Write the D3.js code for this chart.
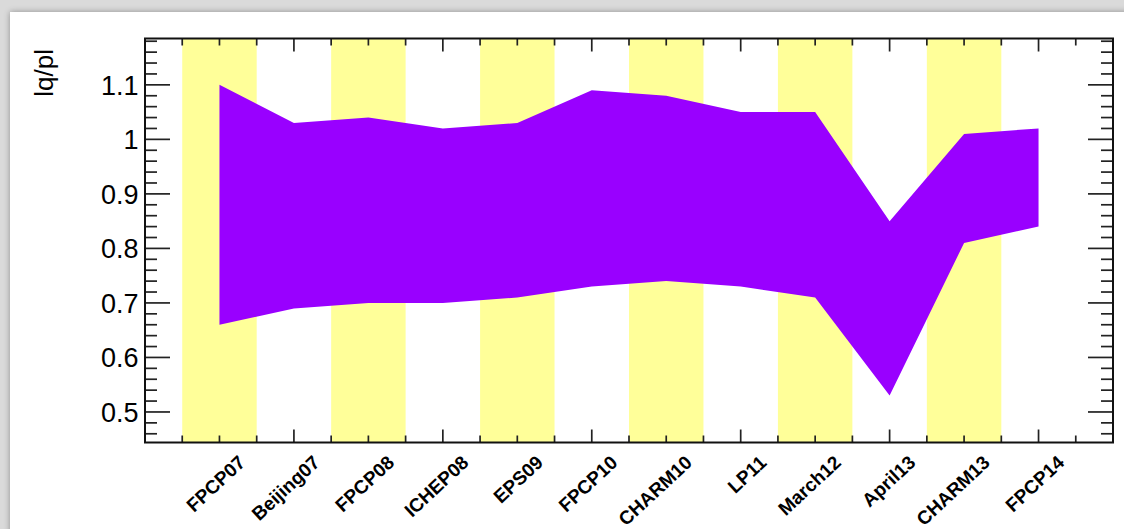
<!DOCTYPE html>
<html>
<head>
<meta charset="utf-8">
<script src="https://cdn.jsdelivr.net/npm/d3@7"></script>
<style>
  html, body { margin: 0; padding: 0; background: #dadada; }
  svg { display: block; }
</style>
</head>
<body>
<script>
// Conference labels, in chronological order
const categories = ["FPCP07", "Beijing07", "FPCP08", "ICHEP08", "EPS09", "FPCP10",
                    "CHARM10", "LP11", "March12", "April13", "CHARM13", "FPCP14"];
// Upper and lower edges of the allowed |q/p| range for each result
const upperValues = [1.10, 1.03, 1.04, 1.02, 1.03, 1.09, 1.08, 1.05, 1.05, 0.85, 1.01, 1.02];
const lowerValues = [0.66, 0.69, 0.70, 0.70, 0.71, 0.73, 0.74, 0.73, 0.71, 0.53, 0.81, 0.84];
// Labelled ticks on the vertical axis
const yTickValues = [0.5, 0.6, 0.7, 0.8, 0.9, 1.0, 1.1];
const yTickLabels = ["0.5", "0.6", "0.7", "0.8", "0.9", "1", "1.1"];

const W = 1124, H = 529;
const frame = { left: 145, right: 1113, top: 38.5, bottom: 442.5 };

const svg = d3.select("body").append("svg")
  .attr("width", W).attr("height", H);

// canvas window with soft shadow
const defs = svg.append("defs");
const shadow = defs.append("filter").attr("id", "shadow")
  .attr("x", "-5%").attr("y", "-5%").attr("width", "110%").attr("height", "110%");
shadow.append("feGaussianBlur").attr("in", "SourceAlpha").attr("stdDeviation", 3);
shadow.append("feOffset").attr("dx", 0).attr("dy", 0).attr("result", "b");
shadow.append("feComponentTransfer").append("feFuncA").attr("type", "linear").attr("slope", 0.35);
const merge = shadow.append("feMerge");
merge.append("feMergeNode");
merge.append("feMergeNode").attr("in", "SourceGraphic");

svg.append("rect").attr("width", W).attr("height", H).attr("fill", "#dadada");
svg.append("rect").attr("x", 10).attr("y", 12).attr("width", W + 20).attr("height", H + 20)
  .attr("fill", "#ffffff").attr("filter", "url(#shadow)");

// scales: categories sit at 1..12 on a 0..13 axis
const x = d3.scaleLinear().domain([0, categories.length + 1]).range([frame.left, frame.right]);
const y = d3.scaleLinear().domain([0.444, 1.185]).range([frame.bottom, frame.top]);

// alternating yellow bands behind every other conference
const bands = svg.append("g");
categories.forEach((c, i) => {
  if (i % 2 === 0) {
    bands.append("rect")
      .attr("x", x(i + 0.5)).attr("width", x(i + 1.5) - x(i + 0.5))
      .attr("y", frame.top).attr("height", frame.bottom - frame.top)
      .attr("fill", "#ffff99");
  }
});

// allowed region as a filled band
const bandData = categories.map((c, i) => ({ i: i + 1, lo: lowerValues[i], hi: upperValues[i] }));
svg.append("path")
  .datum(bandData)
  .attr("d", d3.area().x(d => x(d.i)).y0(d => y(d.lo)).y1(d => y(d.hi)))
  .attr("fill", "#9900ff");

// axes in ROOT style: ticks inside the frame on all four sides
const ink = "#222";
const axes = svg.append("g").attr("stroke", ink).attr("stroke-width", 1.7).attr("fill", "none");

// horizontal axis ticks: long every 2, short every 0.5
const xTicks = d3.range(0.5, categories.length + 1, 0.5);
xTicks.forEach(t => {
  const len = (t % 2 === 0) ? 13 : 7;
  const px = x(t);
  axes.append("line").attr("x1", px).attr("x2", px)
    .attr("y1", frame.bottom).attr("y2", frame.bottom - len);
  axes.append("line").attr("x1", px).attr("x2", px)
    .attr("y1", frame.top).attr("y2", frame.top + len);
});

// vertical axis ticks: major every 0.1, minor every 0.02
const yMinor = d3.range(0.46, 1.181, 0.02).map(v => Math.round(v * 100) / 100);
yMinor.forEach(v => {
  const major = yTickValues.some(t => Math.abs(t - v) < 1e-6);
  const len = major ? 25 : 12;
  const py = y(v);
  axes.append("line").attr("x1", frame.left).attr("x2", frame.left + len)
    .attr("y1", py).attr("y2", py);
  axes.append("line").attr("x1", frame.right).attr("x2", frame.right - len)
    .attr("y1", py).attr("y2", py);
});

svg.append("rect")
  .attr("x", frame.left).attr("y", frame.top)
  .attr("width", frame.right - frame.left).attr("height", frame.bottom - frame.top)
  .attr("fill", "none").attr("stroke", "#111").attr("stroke-width", 2);

// vertical tick labels
svg.append("g").selectAll("text")
  .data(yTickValues)
  .join("text")
  .attr("x", 138.5)
  .attr("y", d => y(d))
  .attr("dy", "0.36em")
  .attr("text-anchor", "end")
  .attr("font-family", "Liberation Sans, Arial, Helvetica, sans-serif")
  .attr("font-size", 27)
  .attr("fill", "#000")
  .text((d, i) => yTickLabels[i]);

// conference labels, rotated
svg.append("g").selectAll("text")
  .data(categories)
  .join("text")
  .attr("text-anchor", "end")
  .attr("transform", (d, i) => `translate(${x(i + 1) + 27},${464}) rotate(-43)`)
  .attr("font-family", "Liberation Sans, Arial, Helvetica, sans-serif")
  .attr("font-weight", "bold")
  .attr("font-size", 19)
  .attr("fill", "#000")
  .text(d => d);

// axis title
svg.append("text")
  .attr("transform", "translate(53,49) rotate(-90)")
  .attr("text-anchor", "end")
  .attr("font-family", "Liberation Sans, Arial, Helvetica, sans-serif")
  .attr("font-size", 26)
  .attr("fill", "#000")
  .text("lq/pl");
</script>
</body>
</html>
